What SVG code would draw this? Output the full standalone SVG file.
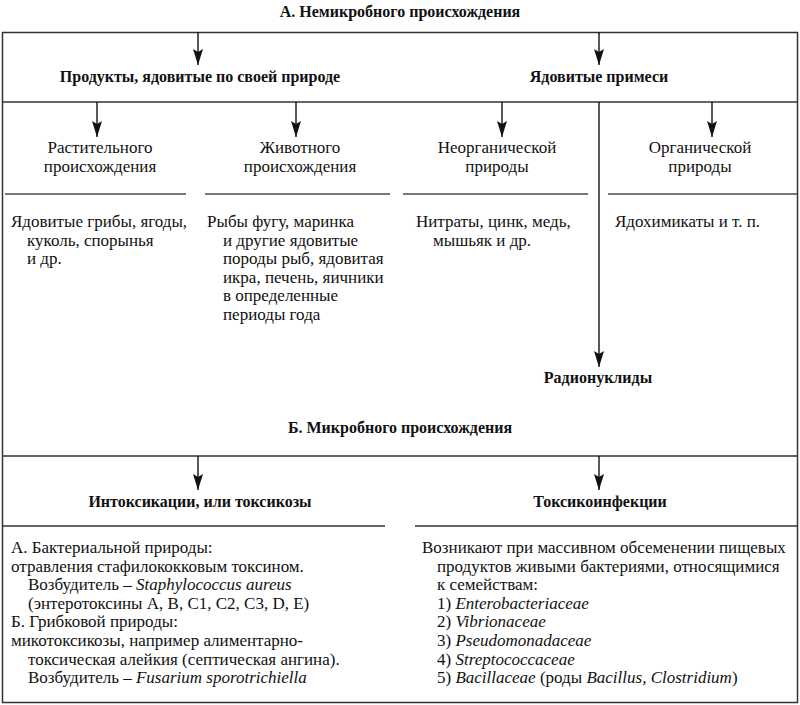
<svg xmlns="http://www.w3.org/2000/svg" width="800" height="705" viewBox="0 0 800 705">
<style>
.h{font-family:"Liberation Serif","DejaVu Serif",serif;font-weight:bold;font-size:16px;fill:#111;text-anchor:middle}
.t{font-family:"Liberation Serif","DejaVu Serif",serif;font-size:17px;fill:#111}
.c{text-anchor:middle}
.i{font-style:italic}
.frame{fill:none;stroke:#333;stroke-width:1.5}
.sep{stroke:#777;stroke-width:2}
.con{stroke:#111;stroke-width:1.4;fill:none}
</style>
<defs>
<marker id="ah" viewBox="0 0 16 10" refX="16" refY="5" markerWidth="16" markerHeight="10" markerUnits="userSpaceOnUse" orient="auto">
<path d="M0,0 L16,5 L0,10 L3,5 z" fill="#111"/>
</marker>
</defs>
<rect fill="#fff" x="0" y="0" width="800" height="705"/>
<g id="frame">
<rect class="frame" x="2.5" y="32.5" width="795" height="670"/>
<line class="frame" x1="2.5" y1="102" x2="797.5" y2="102"/>
<line class="frame" x1="2.5" y1="456" x2="797.5" y2="456"/>
<line class="sep" x1="5" y1="194" x2="186" y2="194"/>
<line class="sep" x1="205" y1="194" x2="390" y2="194"/>
<line class="sep" x1="403" y1="194" x2="588" y2="194"/>
<line class="sep" x1="608" y1="194" x2="797" y2="194"/>
<line class="frame" x1="2.5" y1="526" x2="385" y2="526"/>
<line class="frame" x1="415" y1="526" x2="797.5" y2="526"/>
</g>
<g id="connectors">
<line class="con" x1="198" y1="32" x2="198" y2="65" marker-end="url(#ah)"/>
<line class="con" x1="599" y1="32" x2="599" y2="65" marker-end="url(#ah)"/>
<line class="con" x1="97" y1="102" x2="97" y2="137" marker-end="url(#ah)"/>
<line class="con" x1="296" y1="102" x2="296" y2="137" marker-end="url(#ah)"/>
<line class="con" x1="502" y1="102" x2="502" y2="137" marker-end="url(#ah)"/>
<line class="con" x1="712" y1="102" x2="712" y2="137" marker-end="url(#ah)"/>
<line class="con" x1="599" y1="102" x2="599" y2="367" marker-end="url(#ah)"/>
<line class="con" x1="198" y1="456" x2="198" y2="490" marker-end="url(#ah)"/>
<line class="con" x1="599" y1="456" x2="599" y2="490" marker-end="url(#ah)"/>
</g>
<g id="nonmicrobial"><text class="h" x="400" y="17">А. Немикробного происхождения</text></g>
<g id="natural"><text class="h" x="200" y="82">Продукты, ядовитые по своей природе</text></g>
<g id="impurities"><text class="h" x="599" y="82">Ядовитые примеси</text></g>
<g id="plant">
<text class="t c" x="100" y="153">Растительного</text>
<text class="t c" x="100" y="172">происхождения</text>
</g>
<g id="animal">
<text class="t c" x="300" y="153">Животного</text>
<text class="t c" x="300" y="172">происхождения</text>
</g>
<g id="inorganic">
<text class="t c" x="497" y="153">Неорганической</text>
<text class="t c" x="497" y="172">природы</text>
</g>
<g id="organic">
<text class="t c" x="700" y="153">Органической</text>
<text class="t c" x="700" y="172">природы</text>
</g>
<g id="plant-ex">
<text class="t" x="11" y="227">Ядовитые грибы, ягоды,</text>
<text class="t" x="27" y="245.5">куколь, спорынья</text>
<text class="t" x="27" y="264">и др.</text>
</g>
<g id="animal-ex">
<text class="t" x="207" y="227">Рыбы фугу, маринка</text>
<text class="t" x="223" y="245.5">и другие ядовитые</text>
<text class="t" x="223" y="264">породы рыб, ядовитая</text>
<text class="t" x="223" y="282.5">икра, печень, яичники</text>
<text class="t" x="223" y="301">в определенные</text>
<text class="t" x="223" y="319.5">периоды года</text>
</g>
<g id="inorganic-ex">
<text class="t" x="416" y="227">Нитраты, цинк, медь,</text>
<text class="t" x="433" y="245.5">мышьяк и др.</text>
</g>
<g id="organic-ex"><text class="t" x="615" y="227">Ядохимикаты и т. п.</text></g>
<g id="radionuclides"><text class="h" x="598" y="383">Радионуклиды</text></g>
<g id="microbial"><text class="h" x="400" y="433">Б. Микробного происхождения</text></g>
<g id="intoxications"><text class="h" x="200" y="507">Интоксикации, или токсикозы</text></g>
<g id="toxicoinfections"><text class="h" x="600" y="507">Токсикоинфекции</text></g>
<g id="intox-text">
<text class="t" x="11" y="553">А. Бактериальной природы:</text>
<text class="t" x="11" y="572">отравления стафилококковым токсином.</text>
<text class="t" x="28" y="590">Возбудитель – <tspan class="i">Staphylococcus aureus</tspan></text>
<text class="t" x="28" y="609">(энтеротоксины A, B, C1, C2, C3, D, E)</text>
<text class="t" x="11" y="627">Б. Грибковой природы:</text>
<text class="t" x="11" y="646">микотоксикозы, например алиментарно-</text>
<text class="t" x="28" y="665">токсическая алейкия (септическая ангина).</text>
<text class="t" x="28" y="683">Возбудитель – <tspan class="i">Fusarium sporotrichiella</tspan></text>
</g>
<g id="toxinf-text">
<text class="t" x="422" y="553">Возникают при массивном обсеменении пищевых</text>
<text class="t" x="437" y="572">продуктов живыми бактериями, относящимися</text>
<text class="t" x="437" y="590">к семействам:</text>
<text class="t" x="437" y="609">1) <tspan class="i">Enterobacteriaceae</tspan></text>
<text class="t" x="437" y="627">2) <tspan class="i">Vibrionaceae</tspan></text>
<text class="t" x="437" y="646">3) <tspan class="i">Pseudomonadaceae</tspan></text>
<text class="t" x="437" y="665">4) <tspan class="i">Streptococcaceae</tspan></text>
<text class="t" x="437" y="683">5) <tspan class="i">Bacillaceae</tspan> (роды <tspan class="i">Bacillus, Clostridium</tspan>)</text>
</g>
</svg>
